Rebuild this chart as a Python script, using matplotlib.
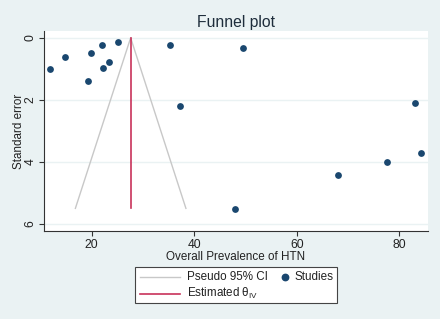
import matplotlib
matplotlib.use("Agg")
import matplotlib.pyplot as plt
from matplotlib.lines import Line2D
from matplotlib.patches import Rectangle

plt.rcParams['font.family'] = ['Liberation Sans', 'DejaVu Sans']
plt.rcParams['mathtext.fontset'] = 'custom'
plt.rcParams['mathtext.rm'] = 'Liberation Sans'
plt.rcParams['mathtext.it'] = 'Liberation Sans'

# Study data: prevalence (%) and standard error
prevalence = [11.9, 14.7, 19.3, 19.9, 22.0, 22.3, 23.3, 25.1, 35.3, 37.2,
              49.5, 83.1, 84.3, 48.0, 68.0, 77.6]
std_error = [1.00, 0.63, 1.40, 0.49, 0.23, 0.98, 0.78, 0.12, 0.24, 2.20,
             0.33, 2.10, 3.70, 5.53, 4.42, 4.02]

theta_iv = 27.6
se_max = 5.5
z = 1.96

x_ticks = [20, 40, 60, 80]
y_ticks = [0, 2, 4, 6]

bg = '#eaf2f3'
navy = '#1a476f'
red = '#c8325a'
gray = '#c8c8c8'
txt = '#222222'

W, H = 440, 319
fig = plt.figure(figsize=(4.4, 3.19), dpi=100, facecolor=bg)
ax = fig.add_axes([44 / W, 1 - 231 / H, 384 / W, 200 / H])
ax.set_facecolor('white')

# grid
for yv in y_ticks:
    ax.axhline(yv, color='#eaf2f3', lw=1.0, zorder=0)

# pseudo CI lines
ax.plot([theta_iv - z * se_max, theta_iv, theta_iv + z * se_max],
        [se_max, 0, se_max], color=gray, lw=1.0, zorder=2)
# estimate line
ax.plot([theta_iv, theta_iv], [0, se_max], color=red, lw=1.2, zorder=3)
# studies
ax.scatter(prevalence, std_error, s=24, color=navy, zorder=4, linewidths=0)

ax.set_xlim(10.7, 85.6)
ax.set_ylim(6.23, -0.22)
ax.set_xticks(x_ticks)
ax.set_yticks(y_ticks)
ax.set_yticklabels([str(v) for v in y_ticks], rotation=90, va='center')
ax.tick_params(axis='both', direction='out', length=3.8, width=0.8,
               color='#333333', labelsize=8.7, labelcolor=txt)
ax.tick_params(axis='x', pad=2)
ax.tick_params(axis='y', pad=1.5)

for s in ['top', 'right']:
    ax.spines[s].set_visible(False)
for s in ['left', 'bottom']:
    ax.spines[s].set_color('#333333')
    ax.spines[s].set_linewidth(0.8)

ax.set_xlabel('Overall Prevalence of HTN', fontsize=8.4, color=txt, labelpad=0)
ax.set_ylabel('Standard error', fontsize=8.4, color=txt)
ax.yaxis.set_label_coords(-(44 - 25) / 384, 0.5)
ax.set_title('Funnel plot', fontsize=11.3, color='#1e2d3b', pad=3)

# legend drawn in figure pixel coordinates (box, handles, labels)
def fx(px):
    return px / W

def fy(py):
    return 1 - py / H

fig.patches.append(Rectangle((fx(135), fy(303)), fx(337) - fx(135), fy(267) - fy(303),
                             transform=fig.transFigure, facecolor='white',
                             edgecolor='#444444', lw=0.8))
fig.lines.append(Line2D([fx(140), fx(180)], [fy(277), fy(277)],
                        transform=fig.transFigure, color=gray, lw=1.0))
fig.lines.append(Line2D([fx(140), fx(180)], [fy(293.5), fy(293.5)],
                        transform=fig.transFigure, color=red, lw=1.2))
fig.lines.append(Line2D([fx(284.5)], [fy(277)], transform=fig.transFigure,
                        marker='o', color=navy, ls='', markersize=4.6))
fig.text(fx(187), fy(277), 'Pseudo 95% CI', ha='left', va='center',
         fontsize=8.4, color=txt)
fig.text(fx(187), fy(293.5), r'Estimated $\theta_{\mathrm{IV}}$', ha='left',
         va='center', fontsize=8.4, color=txt)
fig.text(fx(294.5), fy(277), 'Studies', ha='left', va='center',
         fontsize=8.4, color=txt)

fig.savefig('out.png', dpi=100, facecolor=bg)
